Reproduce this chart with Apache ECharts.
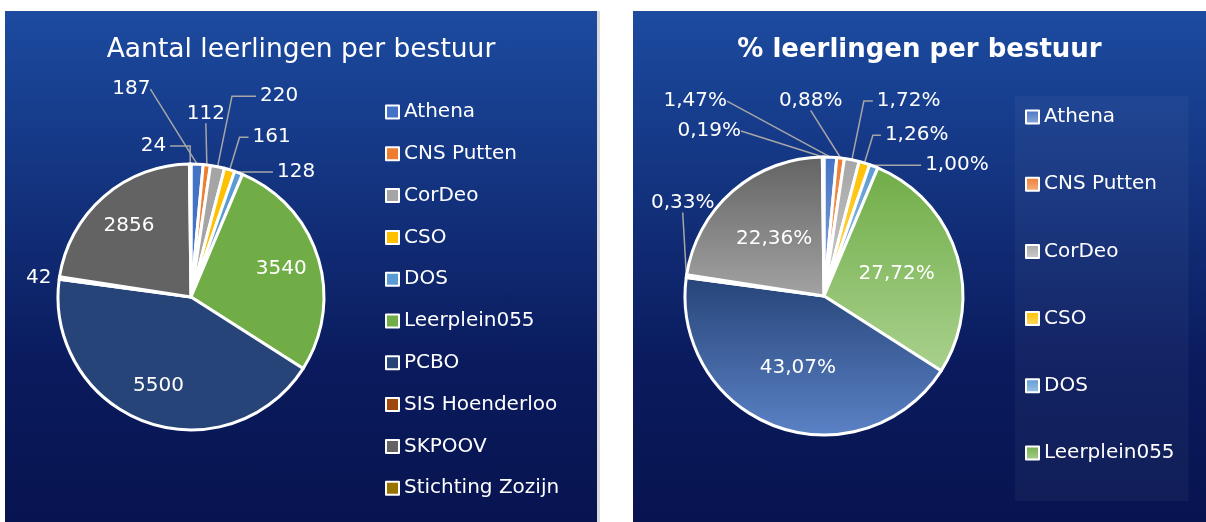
<!DOCTYPE html>
<html>
<head>
<meta charset="utf-8">
<script src="https://cdn.jsdelivr.net/npm/echarts@6/dist/echarts.min.js"></script>
<style>
  html, body { margin: 0; padding: 0; background: #fff; width: 1206px; height: 522px; overflow: hidden; }
  .panel { position: absolute; top: 11px; height: 511px; background: linear-gradient(#1c4ba0, #0a1a5c 70%, #071450); }
  #links { left: 5px; width: 592px; border-right: 3px solid #d9d9d9; }
  #rechts { left: 633px; width: 573px; }
</style>
</head>
<body>
<div id="links" class="panel"></div>
<div id="rechts" class="panel"></div>
<script>
// gegevens
const besturen = ['Athena', 'CNS Putten', 'CorDeo', 'CSO', 'DOS', 'Leerplein055', 'PCBO', 'SIS Hoenderloo', 'SKPOOV', 'Stichting Zozijn'];
const leerlingen = [187, 112, 220, 161, 128, 3540, 5500, 42, 2856, 24];
const percentages = [1.47, 0.88, 1.72, 1.26, 1.00, 27.72, 43.07, 0.33, 22.36, 0.19];
const kleuren = ['#4472C4', '#ED7D31', '#A5A5A5', '#FFC000', '#5B9BD5', '#70AD47', '#264478', '#9E480E', '#636363', '#997300'];
const kleurenLicht = ['#8FAADC', '#F4B183', '#CDCDCD', '#FFD966', '#9DC3E6', '#A9D18E', '#5B82C6', '#C55A11', '#A3A3A3', '#C9A400'];
const legendaRechts = besturen.slice(0, 6);

const font = 'DejaVu Sans';

// plaatsing van de buitenlabels zoals Excel ze neerzet
// spiegel: label links van de taart zetten, dx/dy: extra verschuiving
const labelsLinks = {
	'Athena': { length: 75, length2: 0, spiegel: true, dx: -27 },
	'CNS Putten': { length: 52, length2: 0, spiegel: true, dx: 60 },
	'CorDeo': { length: 72, length2: 24 },
	'CSO': { length: 34, length2: 9 },
	'DOS': { length: 1, length2: 34 },
	'SIS Hoenderloo': { length: 4, length2: 0, show: false },
	'Stichting Zozijn': { length: 18, length2: 20 }
};
const labelsRechts = {
	'Athena': { length: 56, length2: 0, spiegel: true, dx: -84 },
	'CNS Putten': { length: 58, length2: 0, spiegel: true, dx: 46 },
	'CorDeo': { length: 60, length2: 9 },
	'CSO': { length: 29, length2: 8 },
	'DOS': { length: 1, length2: 47 },
	'SIS Hoenderloo': { length: 4, length2: 0, dx: 36, dy: -73 },
	'Stichting Zozijn': { length: 26, length2: 0, dx: -78 }
};

function maakOptie(cfg) {
	const totaal = cfg.waarden.reduce((a, b) => a + b, 0);
	const groot = i => cfg.waarden[i] / totaal > 0.1;
	const data = cfg.waarden.map((v, i) => {
		const item = {
			name: besturen[i],
			value: v,
			itemStyle: { color: cfg.kleur(i) },
			label: { position: groot(i) ? 'inside' : 'outside' }
		};
		const l = cfg.labels[besturen[i]];
		if (l) item.labelLine = { show: l.show !== false, length: l.length, length2: l.length2 };
		return item;
	});
	return {
		title: {
			text: cfg.titel,
			left: 'center',
			top: 21,
			textStyle: { color: '#fff', fontFamily: font, fontSize: cfg.titelGrootte, fontWeight: cfg.titelGewicht }
		},
		legend: cfg.legenda,
		series: [{
			type: 'pie',
			center: cfg.midden,
			radius: cfg.straal,
			startAngle: 90,
			clockwise: true,
			avoidLabelOverlap: false,
			itemStyle: { borderColor: '#fff', borderWidth: 3 },
			label: {
				color: '#fff',
				fontFamily: font,
				fontSize: 20,
				formatter: cfg.formatter,
				distanceToLabelLine: 4
			},
			labelLine: { length: 20, length2: 10, lineStyle: { color: '#a6a6a6', width: 1.5 } },
			labelLayout: function (p) {
				const r = p.labelRect;
				const lx = r.x + r.width / 2;
				const ly = r.y + r.height / 2;
				if (groot(p.dataIndex)) {
					// binnenlabels verder naar buiten schuiven
					return { dx: (lx - cfg.midden[0]) * cfg.binnen, dy: (ly - cfg.midden[1]) * cfg.binnen };
				}
				const l = cfg.labels[besturen[p.dataIndex]];
				if (!l) return {};
				if (l.spiegel) {
					return { x: 2 * cfg.midden[0] - r.x + (l.dx || 0), y: ly + (l.dy || 0), align: 'right', verticalAlign: 'middle' };
				}
				if (l.dx || l.dy) {
					return { x: r.x + (l.dx || 0), y: ly + (l.dy || 0), align: 'left', verticalAlign: 'middle' };
				}
				return {};
			},
			data: data
		}]
	};
}

function legenda(namen, extra) {
	return Object.assign({
		data: namen,
		orient: 'vertical',
		icon: 'rect',
		itemWidth: 13,
		itemHeight: 13,
		itemStyle: { borderColor: '#fff', borderWidth: 2 },
		textStyle: { color: '#fff', fontFamily: font, fontSize: 20, lineHeight: 20 }
	}, extra);
}

const grafiekLinks = echarts.init(document.getElementById('links'));
grafiekLinks.setOption(maakOptie({
	titel: 'Aantal leerlingen per bestuur',
	titelGrootte: 26.5,
	titelGewicht: 'normal',
	waarden: leerlingen,
	midden: [186, 286],
	straal: 133,
	binnen: 0.36,
	labels: labelsLinks,
	kleur: i => kleuren[i],
	formatter: p => String(p.value),
	legenda: legenda(besturen, { left: 375, top: 86, itemGap: 21.8 })
}));

const grafiekRechts = echarts.init(document.getElementById('rechts'));
grafiekRechts.setOption(maakOptie({
	titel: '% leerlingen per bestuur',
	titelGrootte: 26,
	titelGewicht: 'bold',
	waarden: percentages,
	midden: [191, 285],
	straal: 139,
	binnen: 0.05,
	labels: labelsRechts,
	kleur: i => new echarts.graphic.LinearGradient(0, 0, 0, 1, [
		{ offset: 0, color: kleuren[i] },
		{ offset: 1, color: kleurenLicht[i] }
	]),
	formatter: p => p.value.toFixed(2).replace('.', ',') + '%',
	legenda: legenda(legendaRechts, {
		left: 382, top: 85, itemGap: 47.2,
		padding: [11, 14, 38, 10],
		backgroundColor: 'rgba(255,255,255,0.04)'
	})
}));
</script>
</body>
</html>
